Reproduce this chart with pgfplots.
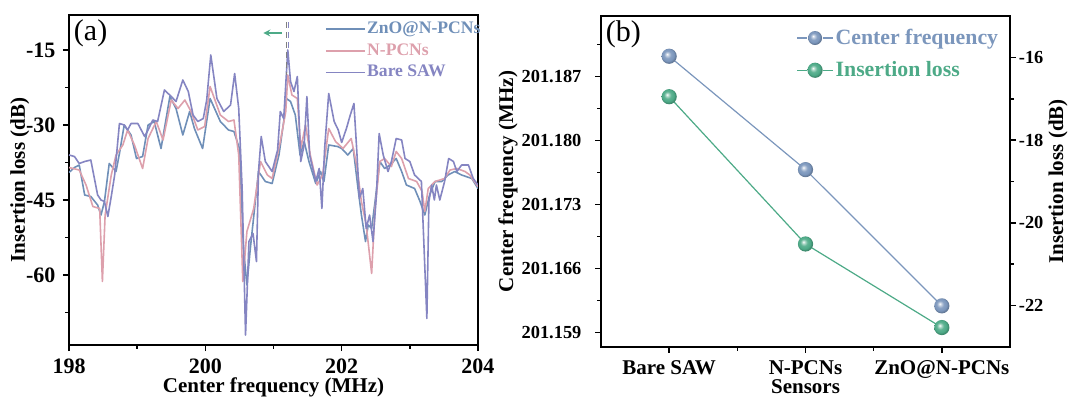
\documentclass[border=0pt]{standalone}
\usepackage{pgfplots}
\pgfplotsset{compat=1.18}
\usepackage{fontspec}
\setmainfont{Liberation Serif}
\definecolor{cZnO}{RGB}{111,143,184}
\definecolor{cN}{RGB}{221,160,172}
\definecolor{cBare}{RGB}{133,133,194}
\definecolor{cCF}{RGB}{123,150,188}
\definecolor{cIL}{RGB}{77,170,135}
\pgfdeclareradialshading{shCF}{\pgfqpoint{-7bp}{7bp}}{color(0bp)=(white); color(5bp)=(cCF!45!white); color(12bp)=(cCF!90!white); color(20bp)=(cCF); color(25bp)=(cCF!80!black); color(50bp)=(cCF!80!black)}
\pgfdeclareradialshading{shIL}{\pgfqpoint{-7bp}{7bp}}{color(0bp)=(white); color(5bp)=(cIL!45!white); color(12bp)=(cIL!90!white); color(20bp)=(cIL); color(25bp)=(cIL!80!black); color(50bp)=(cIL!80!black)}
\pgfdeclareplotmark{ballCF}{\pgfpathcircle{\pgfpointorigin}{\pgfplotmarksize}\pgfshadepath{shCF}{0}\pgfusepath{discard}}
\pgfdeclareplotmark{ballIL}{\pgfpathcircle{\pgfpointorigin}{\pgfplotmarksize}\pgfshadepath{shIL}{0}\pgfusepath{discard}}
\begin{document}
\begin{tikzpicture}
\pgfplotsset{
  every axis/.append style={
    scale only axis, line width=0.9pt, tick align=outside,
    major tick length=3pt, minor tick length=1.8pt,
    every tick/.style={line width=0.8pt, black},
    /pgf/number format/assume math mode=true,
  },
}
\useasboundingbox (-34.5pt,-26pt) rectangle (500.5pt,172.5pt);
% ---------------- panel (a)
\begin{axis}[
  at={(0pt,0pt)}, anchor=south west,
  width=204.5pt, height=165pt,
  xmin=198, xmax=204, ymin=-74, ymax=-8,
  xtick={198,200,202,204}, minor xtick={199,201,203},
  ytick={-60,-45,-30,-15}, minor ytick={-67.5,-52.5,-37.5,-22.5},
  xtick pos=bottom, ytick pos=left,
  tick label style={font=\fontsize{11}{12}\selectfont\bfseries},
  xticklabel style={inner sep=1pt, yshift=-2.6pt},
  label style={font=\fontsize{10.5}{12}\selectfont\bfseries, inner sep=0pt},
  xlabel={Center frequency (MHz)}, ylabel={Insertion loss (dB)},
  x label style={at={(axis description cs:0.5,-0.128)}, anchor=center},
  y label style={at={(axis description cs:-0.12,0.5)}, anchor=center},
  legend style={at={(axis description cs:1.012,0.988)}, anchor=north east, draw=none, fill=none,
    inner sep=0pt, font=\fontsize{8.8}{10}\selectfont\bfseries, row sep=2pt, nodes={inner sep=0.8pt}},
  legend cell align=left,
  legend image code/.code={\draw[#1] (0pt,0pt) -- (19.5pt,0pt);},
  every axis plot/.append style={line width=0.8pt, line join=round},
]
\addplot[cZnO] coordinates {(198.00,-39.5)(198.08,-38.5)(198.15,-38.0)(198.23,-44.0)(198.32,-44.3)(198.42,-46.0)(198.47,-48.0)(198.52,-45.3)(198.59,-37.7)(198.69,-39.3)(198.74,-35.7)(198.81,-30.0)(198.91,-32.0)(198.99,-36.7)(199.08,-36.3)(199.16,-30.0)(199.25,-29.3)(199.35,-34.7)(199.48,-24.3)(199.57,-26.7)(199.67,-32.0)(199.77,-27.3)(199.84,-30.7)(199.96,-34.7)(200.07,-24.7)(200.22,-29.3)(200.34,-31.0)(200.42,-31.3)(200.50,-34.7)(200.56,-54.7)(200.61,-62.0)(200.66,-54.7)(200.78,-39.3)(200.88,-41.3)(200.98,-41.7)(201.08,-36.0)(201.15,-29.3)(201.19,-24.7)(201.25,-25.3)(201.32,-28.0)(201.39,-36.0)(201.45,-33.3)(201.52,-37.3)(201.62,-41.7)(201.69,-39.3)(201.74,-41.3)(201.81,-34.0)(201.94,-34.3)(202.00,-34.7)(202.09,-36.0)(202.17,-34.7)(202.24,-42.7)(202.29,-48.0)(202.35,-53.3)(202.39,-50.0)(202.44,-50.7)(202.49,-45.3)(202.56,-37.3)(202.63,-38.7)(202.71,-38.0)(202.80,-36.7)(202.88,-39.3)(202.95,-42.0)(203.07,-42.7)(203.15,-45.3)(203.22,-48.0)(203.29,-44.0)(203.37,-41.3)(203.47,-41.3)(203.56,-40.0)(203.66,-39.3)(203.76,-40.0)(203.91,-40.7)(204.00,-42.7)};
\addlegendentry[text=cZnO]{ZnO@N-PCNs}
\addplot[cN] coordinates {(198.00,-38.5)(198.15,-39.0)(198.25,-42.0)(198.35,-46.3)(198.45,-46.7)(198.49,-61.3)(198.53,-48.0)(198.62,-40.0)(198.69,-36.0)(198.79,-34.0)(198.86,-31.0)(198.96,-34.0)(199.08,-38.7)(199.16,-32.7)(199.28,-29.3)(199.38,-33.0)(199.50,-25.0)(199.60,-26.7)(199.70,-25.0)(199.79,-27.3)(199.89,-31.0)(199.99,-30.3)(200.07,-22.3)(200.22,-28.0)(200.34,-29.3)(200.42,-29.0)(200.49,-36.0)(200.55,-61.3)(200.61,-51.3)(200.71,-46.7)(200.81,-37.3)(200.91,-40.0)(200.98,-40.7)(201.10,-33.3)(201.18,-27.3)(201.21,-20.0)(201.27,-24.0)(201.35,-24.7)(201.40,-34.7)(201.47,-30.0)(201.54,-36.0)(201.64,-42.0)(201.72,-40.0)(201.81,-30.7)(201.91,-33.3)(202.02,-34.7)(202.14,-32.7)(202.22,-38.0)(202.29,-45.3)(202.36,-50.0)(202.44,-59.7)(202.49,-46.7)(202.56,-37.3)(202.63,-36.7)(202.73,-38.3)(202.80,-35.3)(202.88,-36.7)(202.98,-40.7)(203.10,-41.3)(203.18,-43.3)(203.22,-47.3)(203.27,-42.7)(203.37,-41.3)(203.51,-40.7)(203.59,-39.0)(203.69,-38.7)(203.81,-39.3)(203.88,-40.0)(204.00,-42.3)};
\addlegendentry[text=cN]{N-PCNs}
\addplot[cBare] coordinates {(198.00,-36.0)(198.08,-36.3)(198.15,-37.7)(198.23,-37.3)(198.32,-37.0)(198.42,-44.0)(198.47,-45.0)(198.52,-45.3)(198.57,-48.3)(198.62,-44.3)(198.67,-40.0)(198.74,-29.7)(198.81,-30.0)(198.86,-31.0)(198.91,-29.7)(199.01,-29.7)(199.11,-32.3)(199.16,-31.0)(199.23,-29.0)(199.30,-29.3)(199.40,-23.0)(199.50,-24.3)(199.57,-25.3)(199.67,-21.0)(199.75,-23.3)(199.82,-28.0)(199.89,-29.3)(199.97,-28.7)(200.02,-25.0)(200.08,-16.0)(200.17,-24.7)(200.27,-27.3)(200.37,-26.0)(200.43,-19.7)(200.49,-26.7)(200.54,-42.7)(200.59,-72.0)(200.64,-53.3)(200.70,-51.7)(200.75,-57.3)(200.78,-39.3)(200.82,-32.3)(200.88,-37.3)(200.98,-39.3)(201.06,-35.0)(201.10,-27.3)(201.15,-28.7)(201.21,-15.0)(201.25,-21.3)(201.30,-23.3)(201.35,-20.3)(201.40,-37.3)(201.45,-34.0)(201.49,-24.3)(201.53,-36.0)(201.62,-41.3)(201.67,-38.7)(201.71,-46.7)(201.75,-34.7)(201.81,-23.7)(201.89,-29.3)(201.95,-31.0)(202.00,-33.5)(202.07,-30.7)(202.12,-28.3)(202.18,-25.7)(202.22,-34.7)(202.26,-44.7)(202.31,-42.7)(202.36,-50.7)(202.41,-48.0)(202.46,-53.3)(202.51,-44.0)(202.55,-31.7)(202.61,-36.0)(202.68,-39.3)(202.73,-37.3)(202.80,-32.7)(202.88,-33.0)(202.93,-36.7)(203.00,-37.3)(203.07,-40.0)(203.17,-41.3)(203.25,-68.7)(203.28,-45.3)(203.32,-42.0)(203.36,-45.0)(203.39,-42.0)(203.44,-45.0)(203.51,-41.3)(203.57,-36.7)(203.64,-37.3)(203.69,-39.3)(203.76,-38.0)(203.86,-38.0)(203.93,-40.7)(204.00,-42.0)};
\addlegendentry[text=cBare]{Bare SAW}
\draw[-stealth, cIL, line width=0.6pt] (axis cs:201.12,-11.6) -- (axis cs:200.85,-11.6);
\draw[densely dashed, gray, line width=0.5pt] (axis cs:201.19,-9.4) -- (axis cs:201.19,-20);
\draw[densely dashed, cBare, line width=0.5pt] (axis cs:201.215,-9.4) -- (axis cs:201.215,-18);
\node[anchor=north west, inner sep=1pt, font=\fontsize{15}{15}\selectfont] at (rel axis cs:0.005,0.995) {(a)};
\end{axis}
% ---------------- panel (b), left axis
\begin{axis}[
  at={(266pt,-1pt)}, anchor=south west,
  width=204.5pt, height=165.5pt,
  xmin=-0.5, xmax=2.5, ymin=201.1574, ymax=201.1936,
  xtick={0,1,2}, xticklabels={Bare SAW, N-PCNs, ZnO@N-PCNs}, minor xtick={0.5,1.5},
  ytick={201.159,201.166,201.173,201.180,201.187},
  minor ytick={201.1625,201.1695,201.1765,201.1835,201.1905},
  yticklabel style={/pgf/number format/fixed, /pgf/number format/fixed zerofill, /pgf/number format/precision=3},
  xtick pos=bottom, ytick pos=left,
  y tick label style={font=\fontsize{9.2}{11}\selectfont\bfseries, xshift=-3pt},
  x tick label style={font=\fontsize{10.5}{11}\selectfont\bfseries, inner sep=1pt, yshift=-2.4pt},
  label style={font=\fontsize{10.5}{12}\selectfont\bfseries, inner sep=0pt},
  xlabel={Sensors}, ylabel={Center frequency (MHz)},
  x label style={at={(axis description cs:0.5,-0.121)}, anchor=center},
  y label style={at={(axis description cs:-0.2274,0.5)}, anchor=center},
]
\addplot[cCF, line width=0.6pt, mark=ballCF, mark size=3.8pt] coordinates {(0,201.1892)(1,201.1768)(2,201.1619)};
\node[anchor=north west, inner sep=1pt, font=\fontsize{15}{15}\selectfont] at (rel axis cs:0.005,0.995) {(b)};
\end{axis}
% ---------------- panel (b), right axis
\begin{axis}[
  at={(266pt,-1pt)}, anchor=south west,
  width=204.5pt, height=165.5pt,
  xmin=-0.5, xmax=2.5, ymin=-23, ymax=-15,
  axis x line=none, axis y line*=right,
  ytick={-22,-20,-18,-16}, minor ytick={-21,-19,-17},
  tick label style={font=\fontsize{9.2}{11}\selectfont\bfseries, inner sep=1pt},
  label style={font=\fontsize{10.5}{12}\selectfont\bfseries, inner sep=0pt},
  ylabel={Insertion loss (dB)},
  y label style={at={(axis description cs:1.1174,0.5)}, anchor=center},
  legend style={at={(axis description cs:0.978,0.97)}, anchor=north east, draw=none, fill=none,
    inner sep=0pt, font=\fontsize{10.9}{12}\selectfont\bfseries, row sep=5pt, nodes={inner sep=1pt}},
  legend cell align=left,
  legend image code/.code={
    \draw[#1, mark=none] (0pt,0pt) -- (5pt,0pt);
    \draw[#1, mark=none] (13pt,0pt) -- (18pt,0pt);
    \draw[#1, only marks] plot coordinates {(9pt,0pt)};
  },
]
\addlegendimage{cCF, line width=0.6pt, mark=ballCF, mark size=3.5pt}
\addlegendentry[text=cCF]{Center frequency}
\addplot[cIL, line width=0.6pt, mark=ballIL, mark size=3.8pt] coordinates {(0,-16.95)(1,-20.51)(2,-22.53)};
\addlegendentry[text=cIL]{Insertion loss}
\end{axis}
\end{tikzpicture}
\end{document}
